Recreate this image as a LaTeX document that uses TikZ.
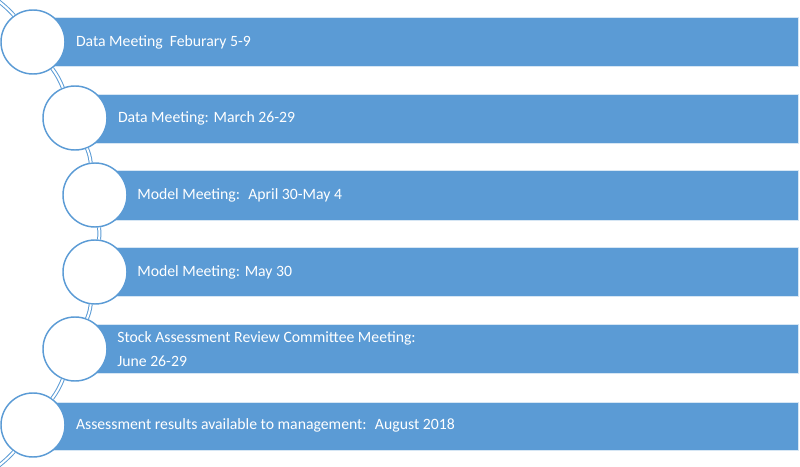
\documentclass[tikz,border=0pt]{standalone}
\usepackage{fontspec}
\setmainfont{Carlito}
\usetikzlibrary{positioning}
\definecolor{barblue}{RGB}{91,155,213}
\tikzset{
	stage/.style={circle, draw=barblue, line width=1.1pt, fill=white, minimum size=48pt, inner sep=0pt},
	barfill/.style={fill=barblue, draw=white!75!barblue, line width=0.5pt},
	bartext/.style={anchor=west, text=white, inner sep=0pt, font=\fontsize{11.8}{18}\selectfont, align=left},
	link/.style={draw=barblue, double=white, line width=0.75pt, double distance=1.5pt},
}

\begin{document}
\begin{tikzpicture}[x=0.75pt, y=-0.75pt]
		%%%%% START %%%%%
		\useasboundingbox (0, 0) rectangle (800, 467);
		
		\draw[barfill] (33, 17) rectangle (798, 66);
		\draw[barfill] (75, 94) rectangle (798, 143);
		\draw[barfill] (95, 170) rectangle (798, 220);
		\draw[barfill] (95, 247) rectangle (798, 296);
		\draw[barfill] (75, 324) rectangle (798, 373);
		\draw[barfill] (33, 402) rectangle (798, 450);
		
		\node[stage] (m1) at (33, 42) {};
		\node[stage] (m2) at (75, 118) {};
		\node[stage] (m3) at (95, 195) {};
		\node[stage] (m4) at (95, 272) {};
		\node[stage] (m5) at (75, 349) {};
		\node[stage] (m6) at (33, 425) {};
		
		\node[bartext, right=7.5pt of m1] (t1) {Data Meeting~ Feburary 5-9};
		\node[bartext, right=7.5pt of m2] (t2) {Data Meeting: March 26-29};
		\node[bartext, right=7pt of m3] (t3) {Model Meeting:~ April 30-May 4};
		\node[bartext, right=7pt of m4] (t4) {Model Meeting: May 30};
		\node[bartext, right=7pt of m5] (t5) {Stock Assessment Review Committee Meeting:\\June 26-29};
		\node[bartext, right=7.5pt of m6] (t6) {Assessment results available to management:~ August 2018};
		
		\coordinate (top) at (-3, 0);
		\coordinate (bot) at (-3, 467);
		\draw[link] (top) to[bend left=5] (m1);
		\draw[link] (m1) to[bend left=7] (m2);
		\draw[link] (m2) to[bend left=7] (m3);
		\draw[link] (m3) to[bend left=7] (m4);
		\draw[link] (m4) to[bend left=7] (m5);
		\draw[link] (m5) to[bend left=7] (m6);
		\draw[link] (m6) to[bend left=5] (bot);
		%%%%% END %%%%%
\end{tikzpicture}
\end{document}
